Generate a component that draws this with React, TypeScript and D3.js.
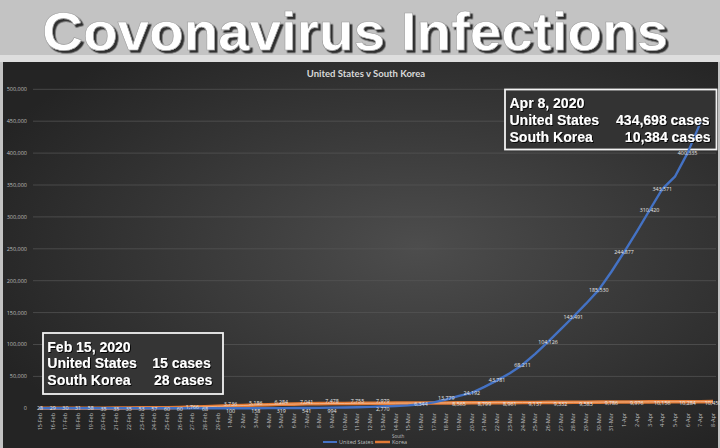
import React from "react";
import * as d3 from "d3";

const categories = [
  "15-Feb","16-Feb","17-Feb","18-Feb","19-Feb","20-Feb","21-Feb","22-Feb","23-Feb","24-Feb",
  "25-Feb","26-Feb","27-Feb","28-Feb","29-Feb",
  "1-Mar","2-Mar","3-Mar","4-Mar","5-Mar","6-Mar","7-Mar","8-Mar","9-Mar","10-Mar",
  "11-Mar","12-Mar","13-Mar","14-Mar","15-Mar","16-Mar","17-Mar","18-Mar","19-Mar","20-Mar",
  "21-Mar","22-Mar","23-Mar","24-Mar","25-Mar","26-Mar","27-Mar","28-Mar","29-Mar","30-Mar","31-Mar",
  "1-Apr","2-Apr","3-Apr","4-Apr","5-Apr","6-Apr","7-Apr","8-Apr",
];

const usCases: (number | null)[] = [
  15, 15, 15, 15, 15, 35, 35, 35, 53, 57,
  60, 60, 60, 68, 70,
  100, 124, 158, 221, 319, 435, 541, 704, 994, 1301,
  1630, 2183, 2770, 3613, 4596, 6344, 9197, 13779, 19367, 24192,
  33592, 43781, 54856, 68211, 85356, 104126, 123750, 143491, 163955, 185530, 214000,
  244877, 277000, 310420, 343571, 363000, 400335, 447000, null,
];

const krCases: number[] = [
  28, 29, 30, 31, 58, 104, 204, 433, 602, 833,
  977, 1261, 1766, 2337, 3150,
  3736, 4335, 5186, 5621, 6284, 6593, 7041, 7314, 7478, 7513,
  7755, 7869, 7979, 8086, 8162, 8236, 8320, 8413, 8565, 8652,
  8799, 8897, 8961, 9037, 9137, 9241, 9332, 9478, 9583, 9661, 9786,
  9887, 9976, 10062, 10156, 10237, 10284, 10331, 10450,
];

const usLabelIdx = [5, 6, 7, 8, 9, 10, 11, 13, 15, 17, 19, 21, 23, 27, 30, 32, 34, 36, 38, 40, 42, 44, 46, 48, 49, 51];
const krLabelIdx = [0, 1, 2, 3, 4, 12, 15, 17, 19, 21, 23, 25, 27, 33, 35, 37, 39, 41, 43, 45, 47, 49, 51, 53];

const yTicks = [0, 50000, 100000, 150000, 200000, 250000, 300000, 350000, 400000, 450000, 500000];

const pageTitle = "Covonavirus Infections";
const chartTitle = "United States v South Korea";
const boxLate = { date: "Apr 8, 2020", us: "434,698 cases", kr: "10,384 cases" };
const boxEarly = { date: "Feb 15, 2020", us: "15 cases", kr: "28 cases" };

const US_COLOR = "#4472C4";
const KR_COLOR = "#E27A35";

export default function App() {
  const W = 720;
  const H = 448;
  const x = d3
    .scalePoint<number>()
    .domain(categories.map((_, i) => i))
    .range([40, 713]);
  const y = d3.scaleLinear().domain([0, 500000]).range([408.3, 89.3]);
  const fmt = d3.format(",");

  const usLine = d3
    .line<number | null>()
    .defined((d) => d != null)
    .x((_, i) => x(i) as number)
    .y((d) => y(d as number));
  const krLine = d3
    .line<number>()
    .x((_, i) => x(i) as number)
    .y((d) => y(d));

  const labelFont = "'Open Sans', 'Noto Sans', sans-serif";
  const boxFont = "'Liberation Sans', Arial, sans-serif";

  return (
    <svg
      width={W}
      height={H}
      viewBox={`0 0 ${W} ${H}`}
      style={{ position: "fixed", left: 0, top: 0, display: "block" }}
    >
      <defs>
        <radialGradient id="bg" cx="58%" cy="48%" r="65%">
          <stop offset="0%" stopColor="#4d4d4d" />
          <stop offset="100%" stopColor="#242424" />
        </radialGradient>
        <filter id="titleShadow" x="-10%" y="-20%" width="120%" height="150%">
          <feDropShadow dx="2.5" dy="2.5" stdDeviation="0.7" floodColor="#262626" floodOpacity="0.95" />
        </filter>
        <filter id="txtShadow" x="-10%" y="-30%" width="120%" height="160%">
          <feDropShadow dx="1" dy="1" stdDeviation="0.6" floodColor="#000" floodOpacity="0.9" />
        </filter>
      </defs>

      {/* page background */}
      <rect x={0} y={0} width={W} height={H} fill="#c3c3c3" />
      <rect x={0} y={55} width={W} height={7} fill="#dedede" />

      {/* title */}
      <text
        x={42}
        y={50}
        fill="#ffffff"
        fontFamily={boxFont}
        fontWeight="bold"
        fontSize={54}
        textLength={626}
        lengthAdjust="spacingAndGlyphs"
        stroke="#9a9a9a"
        strokeWidth={0.6}
        filter="url(#titleShadow)"
      >
        {pageTitle}
      </text>

      {/* chart area */}
      <rect x={3} y={62} width={715} height={H - 62} fill="url(#bg)" />

      <text
        x={366}
        y={77}
        textAnchor="middle"
        fill="#d9d9d9"
        fontFamily="Lato, 'Open Sans', sans-serif"
        fontWeight="bold"
        fontSize={9.5}
      >
        {chartTitle}
      </text>

      {/* gridlines and y labels */}
      {yTicks.map((t) => (
        <g key={t}>
          {t > 0 && (
            <line x1={33} x2={716} y1={y(t)} y2={y(t)} stroke="#585858" strokeWidth={0.7} />
          )}
          <text
            x={27}
            y={y(t)}
            dy="0.35em"
            textAnchor="end"
            fill="#bfbfbf"
            fontFamily={labelFont}
            fontSize={5.5}
          >
            {fmt(t)}
          </text>
        </g>
      ))}

      {/* text box rectangles */}
      <rect x={505} y={89.5} width={211.5} height={60} fill="#333333" stroke="#f2f2f2" strokeWidth={1.8} />
      <rect x={43} y={333} width={180} height={61} fill="#353535" stroke="#f2f2f2" strokeWidth={1.8} />

      {/* lines */}
      <path d={krLine(krCases) || ""} fill="none" stroke={KR_COLOR} strokeWidth={3.6} strokeLinejoin="round" />
      <path d={krLine(krCases) || ""} fill="none" stroke="#f6bf98" strokeWidth={1} strokeLinejoin="round" opacity={0.8} />
      <path d={usLine(usCases) || ""} fill="none" stroke={US_COLOR} strokeWidth={2.4} strokeLinejoin="round" strokeLinecap="round" />

      {/* data labels */}
      {krLabelIdx.map((i) => (
        <text
          key={"k" + i}
          x={x(i)}
          y={y(krCases[i]) + (i >= 15 && i < 30 ? -2 : i >= 30 ? 1.5 : -0.5)}
          dy="0.35em"
          textAnchor="middle"
          fill="#e6e6e6"
          fontFamily={labelFont}
          fontSize={5.3}
        >
          {fmt(krCases[i])}
        </text>
      ))}
      {usLabelIdx.map((i) => (
        <text
          key={"u" + i}
          x={x(i)}
          y={y(usCases[i] as number) + (i >= 15 && i < 30 ? 3 : i < 15 ? 1 : i === 32 ? -1.5 : 0)}
          dy="0.35em"
          textAnchor="middle"
          fill="#e6e6e6"
          fontFamily={labelFont}
          fontSize={5.3}
        >
          {fmt(usCases[i] as number)}
        </text>
      ))}

      {/* x labels */}
      {categories.map((c, i) => (
        <text
          key={c}
          transform={`translate(${(x(i) as number) + 2},413) rotate(-90)`}
          textAnchor="end"
          fill="#bfbfbf"
          fontFamily={labelFont}
          fontSize={5.5}
        >
          {c}
        </text>
      ))}

      {/* legend */}
      <line x1={323} x2={337} y1={442} y2={442} stroke={US_COLOR} strokeWidth={2} />
      <text x={339} y={444} fill="#bfbfbf" fontFamily={labelFont} fontSize={5.5}>
        United States
      </text>
      <line x1={375} x2={390} y1={442} y2={442} stroke={KR_COLOR} strokeWidth={2.5} />
      <text x={392} y={438} fill="#bfbfbf" fontFamily={labelFont} fontSize={4.5}>
        South
      </text>
      <text x={392} y={444} fill="#bfbfbf" fontFamily={labelFont} fontSize={5.5}>
        Korea
      </text>

      {/* text box contents */}
      <g fill="#ffffff" fontFamily={boxFont} fontWeight="bold" fontSize={14} filter="url(#txtShadow)">
        <text x={509.5} y={108.3}>{boxLate.date}</text>
        <text x={509.5} y={125}>United States</text>
        <text x={709.5} y={125} textAnchor="end">{boxLate.us}</text>
        <text x={509.5} y={141.7}>South Korea</text>
        <text x={710.5} y={141.7} textAnchor="end">{boxLate.kr}</text>

        <text x={47.3} y={351.7}>{boxEarly.date}</text>
        <text x={47.3} y={368.3}>United States</text>
        <text x={210.7} y={368.3} textAnchor="end">{boxEarly.us}</text>
        <text x={47.3} y={384.5}>South Korea</text>
        <text x={212.3} y={384.5} textAnchor="end">{boxEarly.kr}</text>
      </g>
    </svg>
  );
}
